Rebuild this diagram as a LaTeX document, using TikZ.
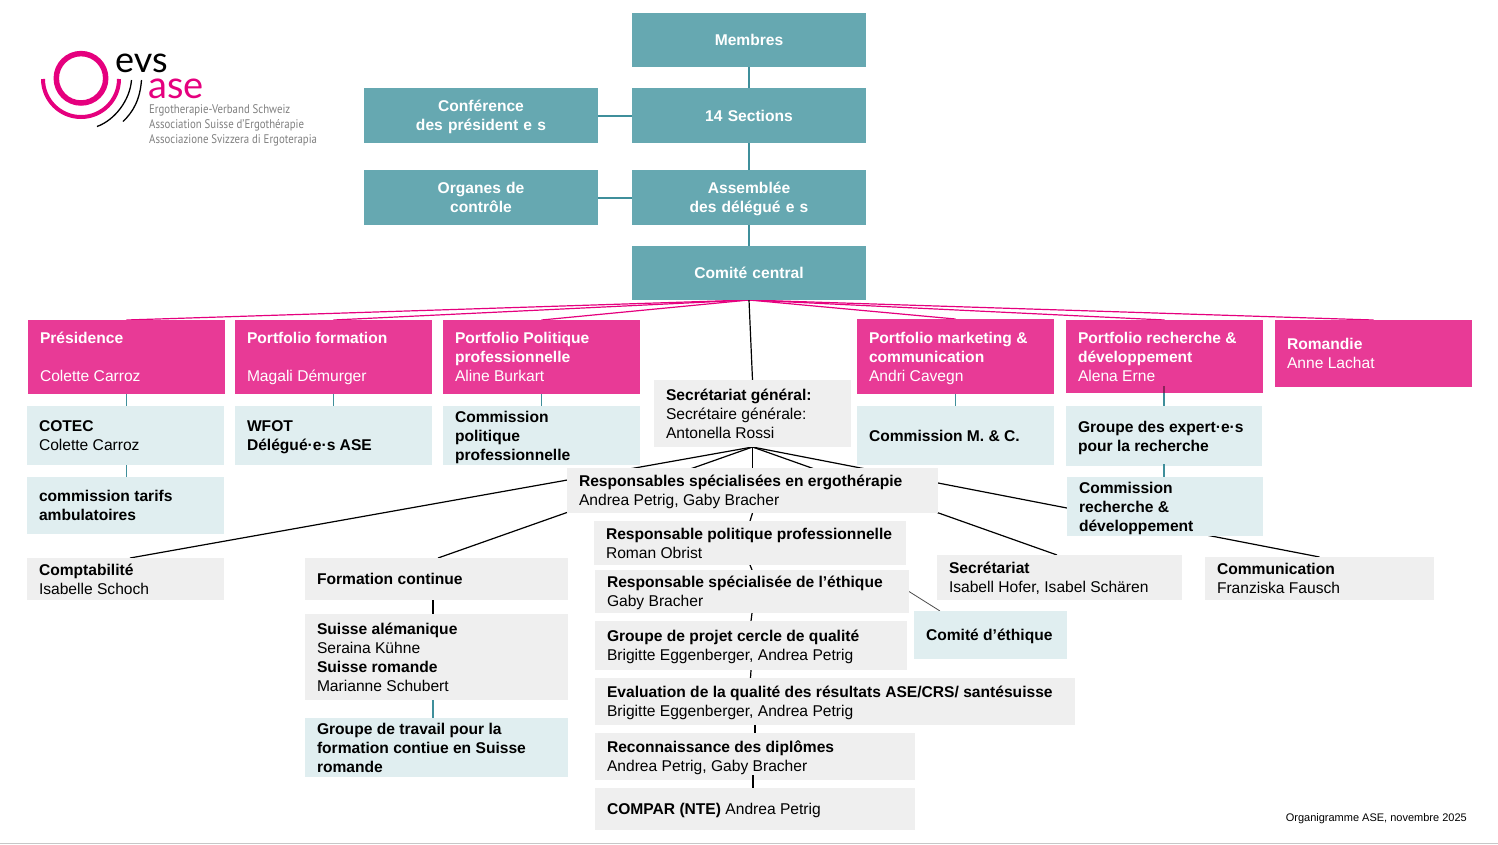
\documentclass[tikz,border=0pt]{standalone}
\usepackage{fontspec}
\usepackage{graphicx}
\usetikzlibrary{backgrounds}
\setmainfont{Liberation Sans}
\newfontfamily\logofont{Lato}
\newfontfamily\tagfont{PT Sans}
\definecolor{tealbox}{HTML}{66A8B1}
\definecolor{tealline}{HTML}{3F8F9B}
\definecolor{pinkbox}{HTML}{E83A96}
\definecolor{pinkline}{HTML}{E5007E}
\definecolor{palebox}{HTML}{E0EEF0}
\definecolor{greybox}{HTML}{EFEFEF}
\definecolor{logotext}{HTML}{7F7F7F}
\tikzset{
  x=1pt,y=-1pt,
  basebox/.style={inner xsep=12pt,inner ysep=0pt,outer sep=0pt,align=flush left,font=\fontsize{15.6}{19}\selectfont,text=black},
  tealnode/.style={basebox,fill=tealbox,text=white,align=center,font=\fontsize{15.6}{19}\selectfont\bfseries},
  pinknode/.style={basebox,fill=pinkbox,text=white},
  palenode/.style={basebox,fill=palebox},
  greynode/.style={basebox,fill=greybox},
  pinkconn/.style={draw=pinkline,line width=1.2pt},
  tealconn/.style={draw=tealline,line width=2pt},
  thinteal/.style={draw=tealline,line width=1pt},
  blackconn/.style={draw=black,line width=1.2pt},
  heavyconn/.style={draw=black,line width=2pt},
  evsline/.style={line width=1.3pt,black,line cap=butt},
  logoarc/.style={draw=pinkline,line width=5.5pt},
  tagline/.style={font=\tagfont\fontsize{12.5}{15}\selectfont,text=logotext,anchor=west,inner sep=0pt},
}
\newcommand{\bx}[7][]{\node[#2,#1,minimum width={(#5-#3)*1pt},minimum height={(#6-#4)*1pt},text width={(#5-#3-24)*1pt}] (#7) at ({(#3+#5)/2},{(#4+#6)/2})}
\newcommand{\B}[1]{\textbf{#1}}
\newcommand{\Tx}[1]{{\rule{0pt}{16.3pt}#1\rule[-4.9pt]{0pt}{4.9pt}}}
\begin{document}
\begin{tikzpicture}
\useasboundingbox (0,0) rectangle (1498,844);
% top
\bx{tealnode}{632}{13}{866}{67}{membres} {\Tx{Membres}};
\bx{tealnode}{632}{88}{866}{143}{sections} {\Tx{14 Sections}};
\bx{tealnode}{364}{88}{598}{143}{conf} {\Tx{Conférence\\des président e s}};
\bx{tealnode}{364}{170}{598}{225}{organes} {\Tx{Organes de\\contrôle}};
\bx{tealnode}{632}{170}{866}{225}{assemblee} {\Tx{Assemblée\\des délégué e s}};
\bx{tealnode}{632}{246}{866}{300}{comite} {\Tx{Comité central}};
% pink row
\bx{pinknode}{28}{320}{225}{394}{pres} {\Tx{\B{Présidence}\\\mbox{}\\Colette Carroz}};
\bx{pinknode}{235}{320}{432}{394}{form} {\Tx{\B{Portfolio formation}\\\mbox{}\\Magali Démurger}};
\bx{pinknode}{443}{320}{640}{394}{poli} {\Tx{\B{Portfolio Politique}\\\B{professionnelle}\\Aline Burkart}};
\bx{pinknode}{857}{319}{1054}{394}{mark} {\Tx{\B{Portfolio marketing \&}\\\B{communication}\\Andri Cavegn}};
\bx{pinknode}{1066}{320}{1263}{393}{rech} {\Tx{\B{Portfolio recherche \&}\\\B{développement}\\Alena Erne}};
\bx{pinknode}{1275}{320}{1472}{387}{roma} {\Tx{\B{Romandie}\\Anne Lachat}};
% second row
\bx{palenode}{27}{406}{224}{465}{cotec} {\Tx{\B{COTEC}\\Colette Carroz}};
\bx{palenode}{235}{406}{432}{465}{wfot} {\Tx{\B{WFOT}\\\B{Délégué·e·s ASE}}};
\bx{palenode}{443}{406}{640}{465}{cpol} {\Tx{\B{Commission}\\\B{politique}\\\B{professionnelle}}};
\bx{greynode}{654}{380}{851}{447}{sg} {\Tx{\B{Secrétariat général:}\\Secrétaire générale:\\Antonella Rossi}};
\bx{palenode}{857}{406}{1054}{465}{cmc} {\Tx{\B{Commission M. \& C.}}};
\bx{palenode}{1066}{406}{1262}{466}{gexp} {\Tx{\B{Groupe des expert·e·s}\\\B{pour la recherche}}};
\bx{palenode}{27}{477}{224}{534}{tarifs} {\Tx{\B{commission tarifs}\\\B{ambulatoires}}};
\bx{palenode}{1067}{477}{1263}{536}{crech} {\Tx{\B{Commission}\\\B{recherche \&}\\\B{développement}}};
% central stack
\bx{greynode}{567}{468}{938}{513}{respo} {\Tx{\B{Responsables spécialisées en ergothérapie}\\Andrea Petrig, Gaby Bracher}};
\bx{greynode}{594}{521}{906}{565}{rpol} {\Tx{\B{Responsable politique professionnelle}\\Roman Obrist}};
\bx{greynode}{595}{570}{909}{613}{reth} {\Tx{\B{Responsable spécialisée de l’éthique}\\Gaby Bracher}};
\bx{greynode}{595}{621}{907}{670}{gpro} {\Tx{\B{Groupe de projet cercle de qualité}\\Brigitte Eggenberger, Andrea Petrig}};
\bx{greynode}{595}{678}{1075}{725}{eval} {\Tx{\B{Evaluation de la qualité des résultats ASE/CRS/ santésuisse}\\Brigitte Eggenberger, Andrea Petrig}};
\bx{greynode}{595}{733}{915}{780}{reco} {\Tx{\B{Reconnaissance des diplômes}\\Andrea Petrig, Gaby Bracher}};
\bx{greynode}{595}{788}{915}{830}{compar} {\Tx{\B{COMPAR (NTE)} Andrea Petrig}};
% others
\bx{greynode}{27}{558}{224}{600}{compta} {\Tx{\B{Comptabilité}\\Isabelle Schoch}};
\bx{greynode}{305}{558}{568}{600}{fc} {\Tx{\B{Formation continue}}};
\bx{greynode}{305}{614}{568}{700}{suisse} {\Tx{\B{Suisse alémanique}\\Seraina Kühne\\\B{Suisse romande}\\Marianne Schubert}};
\bx{palenode}{305}{719}{568}{776}{gtrav} {\Tx{\B{Groupe de travail pour la}\\\B{formation contiue en Suisse}\\\B{romande}}};
\bx{greynode}{937}{555}{1182}{600}{secr} {\Tx{\B{Secrétariat}\\Isabell Hofer, Isabel Schären}};
\bx{greynode}{1205}{557}{1434}{600}{commu} {\Tx{\B{Communication}\\Franziska Fausch}};
\bx{palenode}{914}{611}{1067}{659}{ceth} {\Tx{\B{Comité d’éthique}}};
\node[inner sep=0pt,anchor=east,font=\fontsize{11}{13}\selectfont] (note) at (1467,819) {Organigramme ASE, novembre 2025};
% connectors behind the boxes
\begin{scope}[on background layer]
\foreach \e in {pres,form,poli,mark,rech,roma} \draw[pinkconn] (comite.south) -- (\e.north);
\draw[blackconn] (comite.south) -- (sg.north);
\draw[blackconn] (sg.south) -- ([xshift=4.5pt]compta.north);
\draw[blackconn] (sg.south) -- ([xshift=1.5pt]fc.north);
\draw[blackconn] (sg.south) -- ([xshift=-2.5pt]secr.north);
\draw[blackconn] (sg.south) -- (commu.north);
\draw[blackconn] (sg.south) -- (respo.north);
\draw[blackconn] (respo.south) -- (rpol.north);
\draw[blackconn] (rpol.south) -- (reth.north);
\draw[blackconn] (reth.south) -- (gpro.north);
\draw[blackconn] (gpro.south) -- ([xshift=-84.5pt]eval.north);
\draw[draw=black!70,line width=.8pt] (reth.east) -- ([xshift=-50.5pt]ceth.north);
\draw[tealconn] (membres.south) -- (sections.north);
\draw[tealconn] (sections.south) -- (assemblee.north);
\draw[tealconn] (assemblee.south) -- (comite.north);
\draw[tealconn] (conf.east) -- (sections.west);
\draw[tealconn] (organes.east) -- (assemblee.west);
\draw[thinteal] (pres.south) -- (pres.south |- cotec.north);
\draw[thinteal] (cotec.south -| pres.south) -- (pres.south |- tarifs.north);
\draw[thinteal] (form.south) -- (wfot.north);
\draw[thinteal] (poli.south) -- (cpol.north);
\draw[thinteal] (mark.south) -- (cmc.north);
\draw[tealconn] (rech.south -| gexp.north) -- (gexp.north);
\draw[tealconn] (gexp.south) -- (gexp.south |- crech.north);
\draw[blackconn] ([xshift=-3.5pt]fc.south) -- ([xshift=-3.5pt]suisse.north);
\draw[tealconn] ([xshift=-3.5pt]suisse.south) -- ([xshift=-3.5pt]gtrav.north);
\end{scope}
% connector parts that lie over the boxes
\draw[heavyconn] (eval.south -| reco.north) -- (reco.north);
\draw[heavyconn] ([xshift=-2pt,yshift=5pt]reco.south) -- ([xshift=-2pt]compar.north);
\draw[draw=black!40!pinkbox,line width=1.6pt] ([yshift=7pt]rech.south -| gexp.north) -- (rech.south -| gexp.north);
\draw[tealconn] ([yshift=2pt]gexp.south) -- (gexp.south);
% logo
\draw[logoarc] (81,78.3) circle (24.7);
\draw[logoarc,line width=4pt] (43,79) arc[start angle=180,end angle=0,radius=38];
\draw[evsline] (131.5,80) .. controls (130,100) and (115,120) .. (97,126.5);
\draw[evsline] (141.5,80) .. controls (140,100) and (133,112) .. (123,121.5);
\node[inner sep=0pt,anchor=base west,font=\logofont\fontsize{36}{36}\selectfont,text=black] (evs) at (115,72.5) {evs};
\node[inner sep=0pt,anchor=base west,font=\logofont\fontsize{38}{38}\selectfont,text=pinkline] (ase) at (148,98) {ase};
\node[tagline] (t1) at (149,110) {\scalebox{.865}[1]{Ergotherapie-Verband Schweiz}};
\node[tagline] (t2) at (149,125) {\scalebox{.865}[1]{Association Suisse d’Ergothérapie}};
\node[tagline] (t3) at (149,140) {\scalebox{.865}[1]{Associazione Svizzera di Ergoterapia}};
\draw[black!22,line width=1pt] (0,843.5) -- (1498,843.5);
\end{tikzpicture}
\end{document}
